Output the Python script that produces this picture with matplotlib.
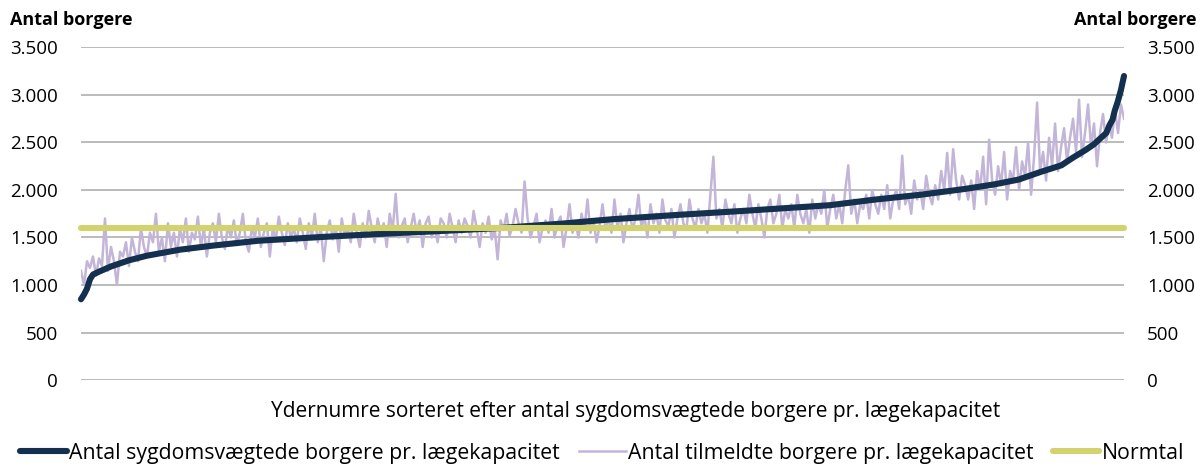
import matplotlib
matplotlib.use("Agg")
import matplotlib.pyplot as plt
import numpy as np

plt.rcParams["font.family"] = ["Open Sans", "Noto Sans", "DejaVu Sans"]

# Position in sorted order of ydernumre (percent), sygdomsvaegtede borgere
sorted_pos = [0, 0.29, 0.57, 0.86, 1.15, 1.72, 2.87, 4.6, 6.3, 9.5, 12.6, 17,
              23, 28.7, 33.9, 40.2, 46, 50.9, 57.5, 63.2, 67.8, 71.8, 76.1,
              80.5, 84.8, 87.6, 89.9, 92, 94, 95.1, 96.3, 97.1, 97.7, 98.3,
              98.6, 98.9, 99.1, 99.4, 99.7, 100]
weighted = [850, 900, 960, 1060, 1110, 1140, 1195, 1260, 1308, 1372, 1414,
            1466, 1505, 1538, 1565, 1600, 1645, 1692, 1740, 1778, 1811, 1840,
            1899, 1950, 2012, 2060, 2110, 2190, 2260, 2340, 2420, 2480, 2540,
            2600, 2680, 2740, 2830, 2930, 3050, 3200]

# Tilmeldte borgere pr. laegekapacitet, same ordering
registered = [
    1150, 1000, 1250, 1180, 1300, 1100, 1280, 1200,
    1700, 1150, 1400, 1250, 1000, 1350, 1300, 1450, 1200,
    1500, 1350, 1250, 1600, 1400, 1300, 1550, 1450, 1750, 1350, 1500, 1250,
    1650, 1400, 1550, 1300,
    1600, 1450, 1700, 1350, 1550, 1480, 1720, 1400, 1600, 1300, 1550, 1650,
    1450, 1750, 1500, 1380, 1620, 1500,
    1680, 1420, 1550, 1750, 1450, 1350, 1600, 1500, 1700, 1400, 1550, 1650,
    1300, 1600, 1480, 1720, 1550, 1420, 1650, 1500,
    1600, 1450, 1700, 1550, 1380, 1650, 1500, 1750, 1450, 1600, 1250, 1550,
    1680, 1480, 1620, 1350, 1700, 1520, 1600, 1450, 1750, 1550, 1400, 1650, 1500,
    1780, 1600, 1450, 1700, 1550, 1650, 1400, 1750, 1580, 1960, 1500, 1620,
    1700, 1450, 1600, 1750, 1550, 1680, 1400, 1650, 1720, 1500, 1600, 1450, 1700,
    1650, 1500, 1750, 1600, 1450, 1680, 1550, 1700, 1620, 1500, 1780, 1600,
    1400, 1650, 1550, 1720, 1480, 1600, 1270, 1680, 1580, 1750, 1520, 1620,
    1800, 1650, 1550, 2090, 1700, 1500,
    1620, 1750, 1450, 1600, 1680, 1550, 1800, 1500, 1650, 1720, 1400, 1600,
    1850, 1550, 1650, 1500, 1750, 1600, 1900, 1550, 1680, 1450, 1620, 1850, 1600,
    1700, 1550, 1900, 1600, 1750, 1450, 1650, 1800, 1580, 1700, 1950, 1600,
    1720, 1500, 1850, 1650, 1750, 1550, 1900, 1680, 1620, 1800, 1500, 1700,
    1850, 1650, 1580, 1900, 1700, 1600,
    1800, 1650, 1750, 1550, 1950, 2350, 1700, 1800, 1600, 1900, 1750, 1650,
    1850, 1550, 1700, 1800, 1650, 1950, 1750, 1600, 1850, 1700, 1500, 1800,
    1900, 1650, 1750, 1950, 1600, 1800,
    1700, 1850, 1600, 1950, 1750, 1650, 1800, 1550, 1900, 1700, 1850, 1750,
    2000, 1600, 1800, 1950, 1700, 1850, 1650, 2000, 2260, 1750, 1900, 1650,
    1850, 1800, 1950, 1700, 2000, 1850,
    1750, 1950, 1800, 2050, 1700, 1900, 2000, 1800, 2360, 1850, 1950, 1750,
    2100, 1900, 2000, 1800, 2150, 1950, 1850, 2050, 1900, 2200, 2000, 2390,
    1950, 2430, 2100, 1900, 2150, 2050,
    1900, 2100, 1800, 2200, 2000, 2350, 1850, 2530, 2100, 1950, 2250, 2050,
    2400, 1900, 2200, 2100, 2450, 2000, 2300, 2150, 2500, 1950, 2350, 2920, 2200,
    2400, 2100, 2550, 2250, 2700, 2200, 2450, 2650, 2300, 2550, 2750, 2400,
    2950, 2350, 2600, 2900, 2450, 2700, 2250, 2600, 2800, 2500, 2700, 2550,
    2850, 2600, 2900, 2750,
]

NORMTAL = 1600
yticks = [0, 500, 1000, 1500, 2000, 2500, 3000, 3500]
ytick_labels = ["0", "500", "1.000", "1.500", "2.000", "2.500", "3.000", "3.500"]

NAVY = "#14304f"
LAVENDER = "#c3b5d8"
OLIVE = "#d2d36e"
GRID = "#a8a8a8"

fig = plt.figure(figsize=(12.03, 4.69), dpi=100)
ax = fig.add_axes([81 / 1203, 1 - 380 / 469, (1124 - 81) / 1203, (380 - 47.5) / 469])

reg_pos = np.linspace(0, 100, len(registered))
ax.plot(reg_pos, registered, color=LAVENDER, linewidth=1.8, zorder=2,
        label="Antal tilmeldte borgere pr. lægekapacitet")
ax.plot(sorted_pos, weighted, color=NAVY, linewidth=4.4, zorder=3,
        solid_capstyle="round", solid_joinstyle="round", clip_on=False,
        label="Antal sygdomsvægtede borgere pr. lægekapacitet")
ax.plot(reg_pos, [NORMTAL] * len(reg_pos), color=OLIVE, linewidth=4.4,
        zorder=4, solid_capstyle="round", clip_on=False, label="Normtal")

ax.set_xlim(0, 100)
ax.set_ylim(0, 3500)
ax.set_yticks(yticks)
ax.set_yticklabels(ytick_labels)
ax.set_xticks([])
ax.grid(axis="y", color=GRID, linewidth=1.1)
ax.set_axisbelow(True)
for s in ax.spines.values():
    s.set_visible(False)
ax.tick_params(axis="y", length=0, pad=16.5, labelsize=13.5, labelright=True,
               labelleft=True)
for t in ax.yaxis.get_major_ticks():
    t.label1.set_horizontalalignment("right")
    t.label2.set_horizontalalignment("left")

fig.text(10 / 1203, 1 - 20 / 469, "Antal borgere", fontsize=13, fontweight="bold",
         ha="left", va="center")
fig.text(1196 / 1203, 1 - 20 / 469, "Antal borgere", fontsize=13, fontweight="bold",
         ha="right", va="center")
fig.text(636 / 1203, 1 - 411 / 469,
         "Ydernumre sorteret efter antal sygdomsvægtede borgere pr. lægekapacitet",
         fontsize=15, ha="center", va="center")

h, l = ax.get_legend_handles_labels()
order = [1, 0, 2]
fig.legend([h[i] for i in order], [l[i] for i in order], loc="center",
           bbox_to_anchor=(602 / 1203, 1 - 453 / 469), ncol=3, frameon=False,
           fontsize=15.3, handlelength=2.2, handletextpad=0.1, columnspacing=0.9,
           borderaxespad=0)

fig.savefig("out.png", dpi=100)
